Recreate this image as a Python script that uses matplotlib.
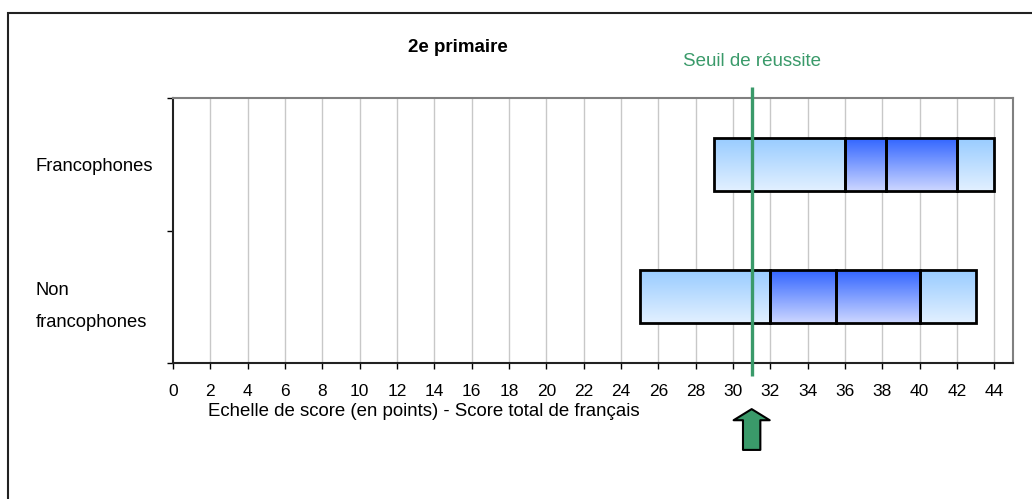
import numpy as np
import matplotlib
matplotlib.use('Agg')
import matplotlib.pyplot as plt
from matplotlib.patches import Rectangle

plt.rcParams['font.family'] = ['Liberation Sans Narrow', 'Liberation Sans', 'DejaVu Sans']

# score boundaries of the segments for each group (bottom to top)
groups = ['Non\nfrancophones', 'Francophones']
seg_edges = [
    [25, 32, 35.5, 40, 43],   # non francophones
    [29, 36, 38.2, 42, 44],   # francophones
]
seuil = 31
x_ticks = np.arange(0, 45, 2)

title = '2e primaire'
xlabel = 'Echelle de score (en points) - Score total de français'
seuil_label = 'Seuil de réussite'

green = '#3a9a6a'
light = ('#99ccff', '#e2f0ff')
dark = ('#3366ff', '#ccd6ff')
seg_colors = [light, dark, dark, light]


def gradient(top, bottom):
    t = np.array(matplotlib.colors.to_rgb(top))
    b = np.array(matplotlib.colors.to_rgb(bottom))
    f = np.linspace(0, 1, 64)[:, None]
    return (t * (1 - f) + b * f)[:, None, :]


fig = plt.figure(figsize=(10.32, 4.99), dpi=100)
ax = fig.add_axes([173/1032, 1 - 363/499, 840/1032, 265/499])

# vertical grid
for x in x_ticks[1:]:
    ax.axvline(x, color='#c8c8c8', lw=1, zorder=0)

h = 0.4
for yi, edges in enumerate(seg_edges):
    for k in range(len(edges) - 1):
        x0, x1 = edges[k], edges[k + 1]
        ax.imshow(gradient(*seg_colors[k]), extent=(x0, x1, yi - h/2, yi + h/2),
                  aspect='auto', zorder=2, interpolation='bilinear')
        ax.add_patch(Rectangle((x0, yi - h/2), x1 - x0, h, fill=False,
                               ec='black', lw=2, zorder=3))

ax.set_xlim(0, 45)
ax.set_ylim(-0.5, 1.5)

# threshold line, runs a bit past the plot area
ax.plot([seuil, seuil], [-0.598, 1.583], color=green, lw=2.4, zorder=4,
        clip_on=False, solid_capstyle='butt')
ax.annotate(seuil_label, xy=(seuil, 1.5), xytext=(0, 23), textcoords='offset points',
            ha='center', va='baseline', color=green, fontsize=13.5)
ax.annotate('', xy=(seuil, -0.174), xycoords=('data', 'axes fraction'),
            xytext=(seuil, -0.328), textcoords=('data', 'axes fraction'),
            arrowprops=dict(arrowstyle='simple,head_length=0.8,head_width=2.6,tail_width=1.25',
                            fc=green, ec='black', lw=1.5, shrinkA=0, shrinkB=0,
                            mutation_scale=10))

ax.set_xticks(x_ticks)
ax.set_xticklabels([str(v) for v in x_ticks], fontsize=12.5)
ax.tick_params(axis='x', length=4, width=1, direction='out', pad=11)

ax.set_yticks([-0.5, 0.5, 1.5])
ax.set_yticklabels([])
ax.tick_params(axis='y', which='major', length=4, width=1, direction='out')
ax.set_yticks([0, 1], minor=True)
ax.set_yticklabels(groups, minor=True, ha='left', fontsize=13.2, linespacing=2.15)
ax.tick_params(axis='y', which='minor', length=0, pad=99)

for s in ['left', 'bottom']:
    ax.spines[s].set_color('#222222')
    ax.spines[s].set_linewidth(1.5)
for s in ['top', 'right']:
    ax.spines[s].set_color('#808080')
    ax.spines[s].set_linewidth(1.5)

fig.text(458/1032, 1 - 48/499, title, ha='center', va='center',
         fontsize=13.5, fontweight='bold')
fig.text(208/1032, 1 - 411/499, xlabel, ha='left', va='center', fontsize=13.4)

# outer frame
fig.patches.append(Rectangle((8/1032, -0.1), 1.2, 1 - 13/499 + 0.1,
                             transform=fig.transFigure, fill=False,
                             ec='#222222', lw=1.5))

fig.savefig('out.png', dpi=100)
